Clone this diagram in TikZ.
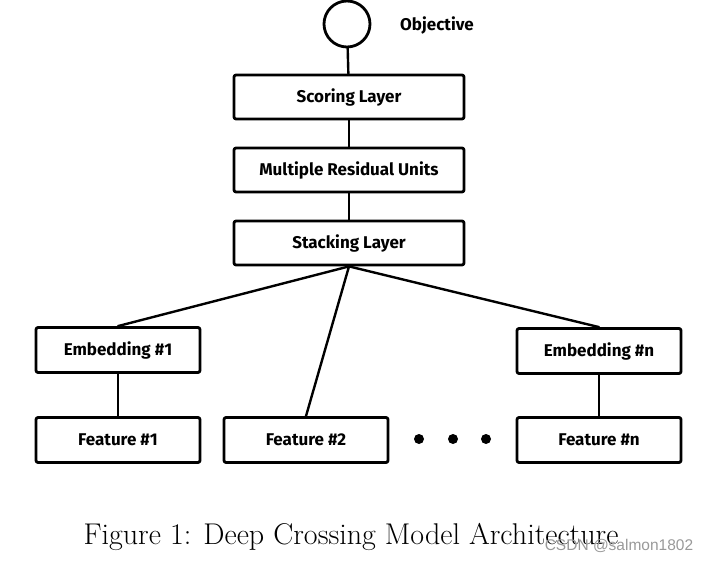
\documentclass[tikz,border=0pt]{standalone}
\usepackage{fontspec}
\newfontfamily\boxfont{Fira Sans}
\newfontfamily\markfont{Liberation Sans}
\usetikzlibrary{arrows.meta}

\begin{document}
\begin{tikzpicture}[x=1pt, y=-1pt, line join=round, line cap=round,
    layer/.style = {draw, line width=2.8pt, rounded corners=2pt, minimum width=230pt, minimum height=44pt, inner sep=0pt, font=\boxfont\bfseries\fontsize{17}{19}\selectfont},
    input/.style = {layer, minimum width=164pt, minimum height=45pt},
    link/.style = {line width=2.4pt}]

    \useasboundingbox (0,0) rectangle (707,561);

    % objective
    \node[draw, circle, line width=2.8pt, minimum size=46pt, inner sep=0pt] (obj) at (347,24) {};
    \node[font=\boxfont\bfseries\fontsize{17}{19}\selectfont] (objlabel) at (437,25) {Objective};

    % layers
    \node[layer] (score) at (349,97) {Scoring Layer};
    \node[layer] (resid) at (349,170) {Multiple Residual Units};
    \node[layer] (stack) at (349,243) {Stacking Layer};

    % embeddings and features
    \node[input] (emb1) at (118,350) {Embedding \#1};
    \node[input] (feat1) at (118,440) {Feature \#1};
    \node[input] (feat2) at (306,440) {Feature \#2};
    \node[input] (embn) at (599,351) {Embedding \#n};
    \node[input] (featn) at (599,440) {Feature \#n};

    % dots
    \foreach \x/\n in {419/a, 453/b, 486/c}
        \fill (\x,439) circle (5pt) coordinate (dot\n);

    % connectors
    \draw[link] (obj) -- (score);
    \draw[link] (score) -- (resid);
    \draw[link] (resid) -- (stack);
    \draw[link] (stack.south) -- (emb1.north);
    \draw[link] (stack.south) -- (feat2.north);
    \draw[link] (stack.south) -- (embn.north);
    \draw[link] (emb1) -- (feat1);
    \draw[link] (embn) -- (featn);

    % caption
    \node[font=\fontsize{30}{33}\selectfont] (caption) at (351,537) {Figure 1: Deep Crossing Model Architecture};
    \node[font=\markfont\fontsize{15.5}{17}\selectfont, text=black!40] (mark) at (619,546) {CSDN @salmon1802};

\end{tikzpicture}
\end{document}
